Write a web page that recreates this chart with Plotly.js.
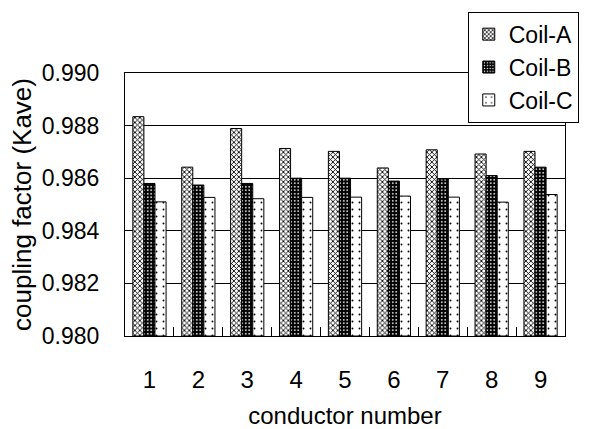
<!DOCTYPE html>
<html>
<head>
<meta charset="utf-8">
<script src="https://cdn.plot.ly/plotly-3.0.1.min.js"></script>
<style>html,body{margin:0;padding:0;background:#fff}#chart{width:591px;height:429px}</style>
</head>
<body>
<div id="chart"></div>
<script>
const conductors = ["1","2","3","4","5","6","7","8","9"];
const coilA = [0.98834, 0.98642, 0.98789, 0.98713, 0.98702, 0.98639, 0.98708, 0.98692, 0.98702];
const coilB = [0.98580, 0.98574, 0.98580, 0.98600, 0.98600, 0.98589, 0.98597, 0.98610, 0.98642];
const coilC = [0.98510, 0.98527, 0.98522, 0.98527, 0.98528, 0.98532, 0.98528, 0.98509, 0.98538];
const seriesNames = ["Coil-A", "Coil-B", "Coil-C"];
const yTicks = [0.980, 0.982, 0.984, 0.986, 0.988, 0.990];
const yTickText = ["0.980", "0.982", "0.984", "0.986", "0.988", "0.990"];

const FONT = "Liberation Sans, Arial, sans-serif";
const base = 0.98;
function tr(name, vals, pattern, grp) {
  return {
    type: "bar", name: name, x: conductors, y: vals.map(v => v - base), base: base,
    legendgroup: grp,
    marker: {color: "#ffffff", line: {color: "#000000", width: 1}, pattern: pattern},
    hoverinfo: "skip"
  };
}
const data = [
  tr(seriesNames[0], coilA, {shape: "x", fgcolor: "#000000", bgcolor: "#ffffff", size: 3.5, solidity: 0.45}, "a"),
  tr(seriesNames[1], coilB, {shape: ".", fgcolor: "#ffffff", bgcolor: "#000000", size: 3.5, solidity: 0.2}, "b"),
  tr(seriesNames[2], coilC, {shape: ".", fgcolor: "#000000", bgcolor: "#ffffff", size: 7, solidity: 0.06}, "c")
];
const plotW = 591 - 125 - 18;
const plotH = 429 - 70 - 93;
const layout = {
  width: 591, height: 429,
  margin: {l: 125, r: 18, t: 70, b: 93},
  paper_bgcolor: "#ffffff", plot_bgcolor: "#ffffff",
  font: {family: FONT, size: 23, color: "#000000"},
  barmode: "group", bargap: 0.32, bargroupgap: 0.0,
  showlegend: true,
  legend: {x: (587 - 125) / plotW, y: 1 + (70 - 8) / plotH,
           xanchor: "right", yanchor: "top", traceorder: "normal",
           bgcolor: "#ffffff", bordercolor: "#000000", borderwidth: 1,
           font: {family: FONT, size: 23}, tracegroupgap: 9,
           itemwidth: 30},
  xaxis: {
    type: "category", showgrid: false, showline: true, mirror: true,
    linecolor: "#000000", linewidth: 1,
    ticks: "inside", tickson: "boundaries", ticklen: 9, tickcolor: "#000000",
    ticklabelstandoff: 22,
    tickfont: {family: FONT, size: 24},
    title: {text: "conductor number", font: {family: FONT, size: 24}, standoff: 17},
    fixedrange: true
  },
  yaxis: {
    range: [0.980, 0.990], tickvals: yTicks, ticktext: yTickText,
    showgrid: true, gridcolor: "#000000", gridwidth: 1,
    showline: true, mirror: true, linecolor: "#000000", linewidth: 1,
    ticks: "", ticklabelstandoff: 20, zeroline: false,
    tickfont: {family: FONT, size: 23},
    title: {text: "coupling factor (Kave)", font: {family: FONT, size: 26}, standoff: 2},
    fixedrange: true
  }
};
Plotly.newPlot("chart", data, layout, {staticPlot: true, displayModeBar: false});
</script>
</body>
</html>
